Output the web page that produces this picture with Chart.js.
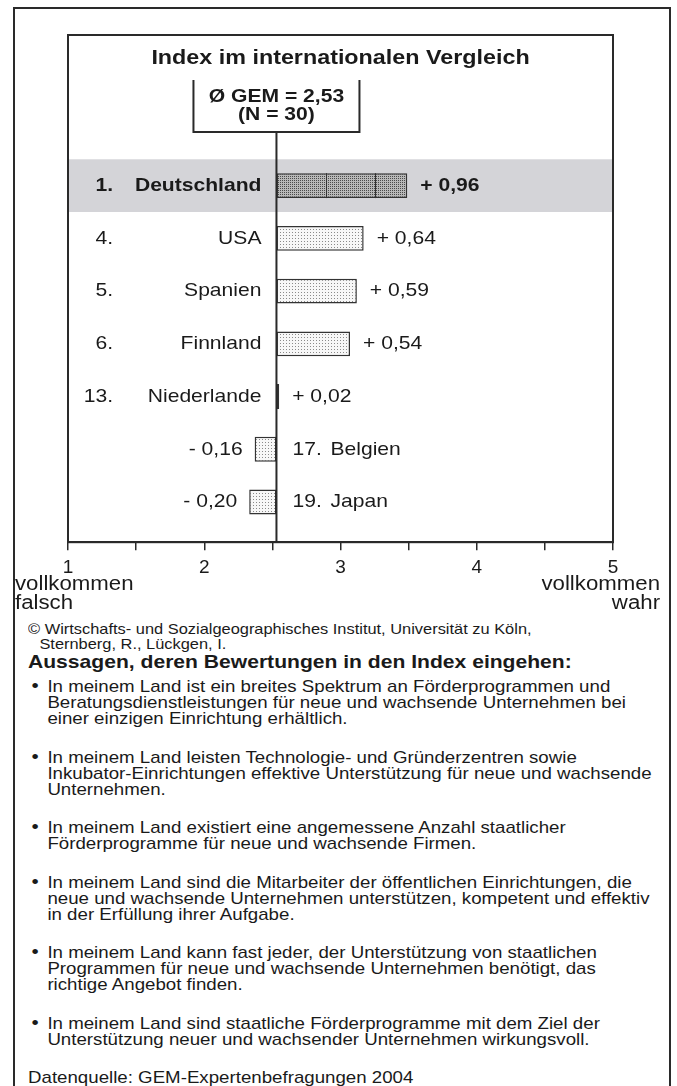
<!DOCTYPE html>
<html lang="de">
<head>
<meta charset="utf-8">
<script src="https://cdn.jsdelivr.net/npm/chart.js@4.4.0/dist/chart.umd.min.js"></script>
<style>
  html, body { margin: 0; padding: 0; background: #fff; }
  body { width: 677px; height: 1086px; position: relative; overflow: hidden;
         font-family: "Liberation Sans", Arial, sans-serif; color: #1a1a1a; }
  #frame { position: absolute; left: 13px; top: 7px; width: 658px; height: 1120px;
           border: 2px solid #2a2a2a; box-sizing: border-box; }
  #chart { position: absolute; left: 0; top: 0; }
  .st { position: absolute; white-space: nowrap; transform: scaleX(1.14); transform-origin: left top; }
  .ends { font-size: 19.5px; line-height: 19px; top: 574px; }
  #endL { left: 15px; }
  #endR { right: 17px; text-align: right; transform-origin: right top; }
  #credit { left: 28px; top: 622px; font-size: 14.4px; line-height: 15px; }
  #credit span { display: block; }
  #credit .ind { padding-left: 10px; }
  #heading { left: 28px; top: 653px; font-size: 18.5px; line-height: 18px; font-weight: bold; }
  #list { left: 28px; top: 678px; font-size: 16.4px; line-height: 16px; }
  #list .item { position: relative; padding-left: 17px; margin-bottom: 22.5px; }
  #list .item::before { content: "\2022"; position: absolute; left: 3px; top: 0; font-size: 18px; }
</style>
</head>
<body>
<div id="frame"></div>
<canvas id="chart" width="677" height="620"></canvas>
<div id="endL" class="st ends"></div>
<div id="endR" class="st ends"></div>
<div id="credit" class="st">
  <span>© Wirtschafts- und Sozialgeographisches Institut, Universität zu Köln,</span>
  <span class="ind">Sternberg, R., Lückgen, I.</span>
</div>
<div id="heading" class="st">Aussagen, deren Bewertungen in den Index eingehen:</div>
<div id="list" class="st">
  <div class="item">In meinem Land ist ein breites Spektrum an Förderprogrammen und<br>Beratungsdienstleistungen für neue und wachsende Unternehmen bei<br>einer einzigen Einrichtung erhältlich.</div>
  <div class="item">In meinem Land leisten Technologie- und Gründerzentren sowie<br>Inkubator-Einrichtungen effektive Unterstützung für neue und wachsende<br>Unternehmen.</div>
  <div class="item">In meinem Land existiert eine angemessene Anzahl staatlicher<br>Förderprogramme für neue und wachsende Firmen.</div>
  <div class="item">In meinem Land sind die Mitarbeiter der öffentlichen Einrichtungen, die<br>neue und wachsende Unternehmen unterstützen, kompetent und effektiv<br>in der Erfüllung ihrer Aufgabe.</div>
  <div class="item">In meinem Land kann fast jeder, der Unterstützung von staatlichen<br>Programmen für neue und wachsende Unternehmen benötigt, das<br>richtige Angebot finden.</div>
  <div class="item">In meinem Land sind staatliche Förderprogramme mit dem Ziel der<br>Unterstützung neuer und wachsender Unternehmen wirkungsvoll.</div>
  <div>Datenquelle: GEM-Expertenbefragungen 2004</div>
</div>
<script>
// values
const countries = ['Deutschland', 'USA', 'Spanien', 'Finnland', 'Niederlande', 'Belgien', 'Japan'];
const ranks = ['1.', '4.', '5.', '6.', '13.', '17.', '19.'];
const deviations = [0.96, 0.64, 0.59, 0.54, 0.02, -0.16, -0.20];
const gemMean = 2.53;
const gemCount = 30;
const axisTicks = [1, 2, 3, 4, 5];
const axisEndLabels = [['vollkommen', 'falsch'], ['vollkommen', 'wahr']];
const chartTitle = 'Index im internationalen Vergleich';

const FONT = '"Liberation Sans", Arial, sans-serif';
const SX = 1.11; // the original lettering is set slightly wide
const INK = '#1a1a1a';
const LINE = '#2a2a2a';

document.getElementById('endL').innerHTML = axisEndLabels[0].join('<br>');
document.getElementById('endR').innerHTML = axisEndLabels[1].join('<br>');

const fmt = v => v.toFixed(2).replace('.', ',');
const fmtDev = v => (v < 0 ? '- ' : '+ ') + fmt(Math.abs(v));

// stipple fills
function stipple(size, bg, dot, dots) {
  const c = document.createElement('canvas');
  c.width = size; c.height = size;
  const g = c.getContext('2d');
  g.fillStyle = bg; g.fillRect(0, 0, size, size);
  g.fillStyle = dot;
  dots.forEach(d => g.fillRect(d[0], d[1], 1, 1));
  return g.createPattern(c, 'repeat');
}
const lightFill = stipple(3, '#f7f7f7', '#8a8a8a', [[1, 1]]);
const darkFill = stipple(2, '#b8b8b8', '#4a4a4a', [[0, 0]]);

function stretchText(ctx, s, x, y, align, weight, size) {
  ctx.save();
  ctx.translate(x, y);
  ctx.scale(SX, 1);
  ctx.font = weight + ' ' + size + 'px ' + FONT;
  ctx.textAlign = align;
  ctx.textBaseline = 'middle';
  ctx.fillStyle = INK;
  ctx.fillText(s, 0, 0);
  ctx.restore();
}

const decor = {
  id: 'decor',
  beforeDatasetsDraw(chart) {
    const { ctx, chartArea: ca, scales: { y } } = chart;
    // highlighted first row
    const t = y.getPixelForValue(-0.5), b = y.getPixelForValue(0.5);
    ctx.save();
    ctx.fillStyle = '#d4d4d8';
    ctx.fillRect(ca.left, t, ca.right - ca.left, b - t);
    ctx.restore();
  },
  afterDatasetsDraw(chart) {
    const { ctx, chartArea: ca, scales: { x } } = chart;
    const meta = chart.getDatasetMeta(0);
    const mx = x.getPixelForValue(gemMean);

    // dividers inside the leading bar
    const lead = meta.data[0];
    ctx.save();
    ctx.strokeStyle = '#333';
    ctx.lineWidth = 1;
    [0.375, 0.75].forEach(f => {
      const px = Math.round(lead.base + f * (lead.x - lead.base)) + 0.5;
      ctx.beginPath();
      ctx.moveTo(px, lead.y - lead.height / 2);
      ctx.lineTo(px, lead.y + lead.height / 2);
      ctx.stroke();
    });
    ctx.restore();

    // row labels
    meta.data.forEach((el, i) => {
      const d = deviations[i];
      const w = i === 0 ? 'bold' : 'normal';
      if (d >= 0) {
        stretchText(ctx, ranks[i], ca.left + 45, el.y, 'right', w, 19);
        stretchText(ctx, countries[i], mx - 15, el.y, 'right', w, 19);
        stretchText(ctx, fmtDev(d), Math.max(el.x, el.base) + 13, el.y, 'left', w, 19);
      } else {
        stretchText(ctx, ranks[i], mx + 16, el.y, 'left', w, 19);
        stretchText(ctx, countries[i], mx + 54, el.y, 'left', w, 19);
        stretchText(ctx, fmtDev(d), Math.min(el.x, el.base) - 12, el.y, 'right', w, 19);
      }
    });

    // mean box and line
    const boxTop = ca.top + 45, boxBot = ca.top + 97;
    ctx.save();
    ctx.strokeStyle = LINE;
    ctx.lineWidth = 2;
    ctx.beginPath();
    ctx.moveTo(mx - 83, boxTop); ctx.lineTo(mx - 83, boxBot);
    ctx.lineTo(mx + 83, boxBot); ctx.lineTo(mx + 83, boxTop);
    ctx.moveTo(mx, boxBot); ctx.lineTo(mx, ca.bottom);
    ctx.stroke();
    ctx.strokeRect(ca.left, ca.top, ca.right - ca.left, ca.bottom - ca.top);
    ctx.restore();
    stretchText(ctx, 'Ø GEM = ' + fmt(gemMean), mx, ca.top + 62, 'center', 'bold', 19);
    stretchText(ctx, '(N = ' + gemCount + ')', mx, ca.top + 80, 'center', 'bold', 19);

    stretchText(ctx, chartTitle, (ca.left + ca.right) / 2, ca.top + 23, 'center', 'bold', 21);
  }
};

new Chart(document.getElementById('chart'), {
  type: 'bar',
  data: {
    datasets: [{
      data: deviations.map((d, i) => ({ y: i, x: [gemMean, gemMean + d] })),
      backgroundColor: deviations.map((d, i) => i === 0 ? darkFill : lightFill),
      borderColor: '#333',
      borderWidth: 1.5,
      borderSkipped: false,
      categoryPercentage: 1,
      barPercentage: 0.62
    }]
  },
  options: {
    indexAxis: 'y',
    responsive: false,
    animation: false,
    devicePixelRatio: 1,
    layout: { padding: { left: 68, right: 64, top: 35, bottom: 35 } },
    plugins: { legend: { display: false }, tooltip: { enabled: false } },
    scales: {
      y: { type: 'linear', reverse: true, offset: false, min: -2.857, max: 6.762, display: false,
           grid: { offset: false } },
      x: {
        type: 'linear', min: 1, max: 5, position: 'bottom',
        ticks: {
          stepSize: 0.5, autoSkip: false, maxRotation: 0, padding: 6, color: INK,
          font: { family: FONT, size: 19 },
          callback: v => axisTicks.includes(v) ? String(v) : ''
        },
        grid: { drawOnChartArea: false, drawTicks: true, tickLength: 8, color: LINE, lineWidth: 1.5 },
        border: { display: true, color: LINE, width: 2 }
      }
    }
  },
  plugins: [decor]
});
</script>
</body>
</html>
